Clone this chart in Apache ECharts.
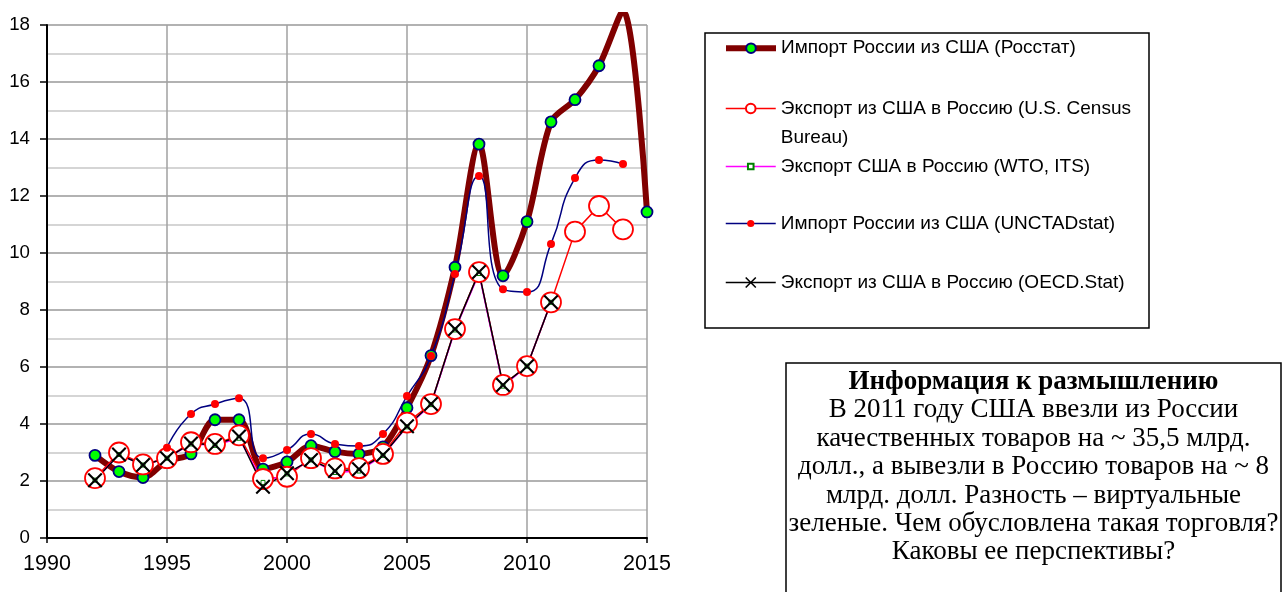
<!DOCTYPE html>
<html>
<head>
<meta charset="utf-8">
<script src="https://cdn.jsdelivr.net/npm/echarts@6/dist/echarts.min.js"></script>
<style>
html,body{margin:0;padding:0;background:#fff;}
#c{width:1283px;height:592px;}
</style>
</head>
<body>
<div id="c"></div>
<script>
const years = [1992,1993,1994,1995,1996,1997,1998,1999,2000,2001,2002,2003,2004,2005,2006,2007,2008,2009,2010,2011,2012,2013,2014,2015];
const rosstat = [2.9,2.33,2.12,2.7,2.95,4.15,4.15,2.42,2.67,3.24,3.03,2.95,3.2,4.57,6.4,9.5,13.82,9.2,11.1,14.6,15.38,16.57,18.5,11.44];
const census = [2.1,3.0,2.58,2.8,3.36,3.3,3.6,2.07,2.15,2.8,2.44,2.45,2.95,4.05,4.7,7.33,9.33,5.37,6.03,8.27,10.75,11.65,10.83,null];
const wto = [2.03,2.93,2.56,2.8,3.3,3.25,3.5,1.95,2.25,2.74,2.3,2.35,2.9,3.9,4.68,7.3,9.28,5.33,6.03,8.27,null,null,null,null];
const unctad = [null,null,null,3.17,4.35,4.7,4.9,2.8,3.09,3.65,3.3,3.23,3.65,4.98,6.39,9.26,12.7,8.73,8.63,10.32,12.63,13.26,13.12,null];
const oecd = [2.03,2.93,2.56,2.8,3.32,3.27,3.56,1.8,2.27,2.74,2.35,2.41,2.91,3.92,4.7,7.33,9.33,5.37,6.03,8.27,null,null,null,null];
const xTicks = [1990,1995,2000,2005,2010,2015];
const names = [
  'Импорт России из США (Росстат)',
  'Экспорт из США в Россию (U.S. Census Bureau)',
  'Экспорт США в Россию (WTO, ITS)',
  'Импорт России из США (UNCTADstat)',
  'Экспорт из США в Россию (OECD.Stat)'
];
const noteTitle = 'Информация к размышлению';
const noteLines = ['В 2011 году США ввезли из России','качественных товаров на ~ 35,5 млрд.','долл., а вывезли в Россию товаров на ~ 8','млрд. долл. Разность – виртуальные','зеленые. Чем обусловлена такая торговля?','Каковы ее перспективы?'];

function pairs(arr){ const out=[]; arr.forEach((v,i)=>{ if(v!=null) out.push([years[i],v]); }); return out; }
// points above the plot area keep their line but their marker is not drawn
const rosstatData = pairs(rosstat).map(p => p[1] > 18 ? {value:p, symbol:'none'} : p);
const xPath = 'path://M0,1L1,0L5,4L9,0L10,1L6,5L10,9L9,10L5,6L1,10L0,9L4,5Z';

const chart = echarts.init(document.getElementById('c'), null, {renderer:'canvas'});
const FONT = 'Liberation Sans, Arial, sans-serif';

function leg(name, left, top, itemHeight, lw, fmt){
  return {
    data:[name], orient:'vertical', left:left, top:top, padding:0,
    itemWidth:50, itemHeight:itemHeight, itemGap:0, selectedMode:false,
    lineStyle:{width:lw},
    textStyle:{fontFamily:FONT, fontSize:19, color:'#000', lineHeight:29},
    formatter: fmt || (n => n)
  };
}

const option = {
  animation:false,
  backgroundColor:'#fff',
  grid:{left:47, top:25, width:600, height:513, containLabel:false},
  xAxis:{
    type:'value', min:1990, max:2015, interval:5,
    axisLine:{show:true, onZero:false, lineStyle:{color:'#000', width:2}},
    axisTick:{show:true, inside:false, length:5, lineStyle:{color:'#000', width:1.5}},
    axisLabel:{color:'#000', fontFamily:FONT, fontSize:21.5, margin:15,
      formatter: v => xTicks.includes(v) ? String(v) : ''},
    splitLine:{show:true, lineStyle:{color:'#a0a0a0', width:1.5}}
  },
  yAxis:{
    type:'value', min:0, max:18, interval:2,
    axisLine:{show:true, lineStyle:{color:'#000', width:2}},
    axisTick:{show:true, inside:false, length:7, lineStyle:{color:'#000', width:1.5}},
    axisLabel:{color:'#000', fontFamily:FONT, fontSize:18.7, margin:17},
    splitLine:{show:true, lineStyle:{color:'#999', width:1.5}},
    minorTick:{show:false, splitNumber:2},
    minorSplitLine:{show:true, lineStyle:{color:'#c8c8c8', width:1.5}}
  },
  legend:[
    leg(names[0], 723, 33.7, 12, 6),
    leg(names[1], 725, 65, 12, 1.5, n => '\u00a0\n' + n.replace(' Bureau)', '\nBureau)')),
    leg(names[2], 725, 152, 7, 1.5),
    leg(names[3], 725, 209, 9, 1.5),
    leg(names[4], 725, 268, 14, 1.5)
  ],
  series:[
    {
      name:names[0], type:'line', data:rosstatData, smooth:0.3, clip:false,
      lineStyle:{color:'#800000', width:6},
      symbol:'circle', symbolSize:11,
      itemStyle:{color:'#00ff00', borderColor:'#000080', borderWidth:1.8}
    },
    {
      name:names[1], type:'line', data:pairs(census), smooth:false,
      lineStyle:{color:'#ff0000', width:1.5},
      symbol:'circle', symbolSize:20,
      itemStyle:{color:'#ffffff', borderColor:'#ff0000', borderWidth:1.8}
    },
    {
      name:names[2], type:'line', data:pairs(wto), smooth:false,
      lineStyle:{color:'#ff00ff', width:1.5},
      symbol:'rect', symbolSize:4,
      itemStyle:{color:'#ffffff', borderColor:'#008000', borderWidth:1}
    },
    {
      name:names[3], type:'line', data:pairs(unctad), smooth:0.55,
      lineStyle:{color:'#000080', width:1.5},
      symbol:'circle', symbolSize:8,
      itemStyle:{color:'#ff0000', borderWidth:0}
    },
    {
      name:names[4], type:'line', data:pairs(oecd), smooth:false,
      lineStyle:{color:'#000000', width:1.5},
      symbol:xPath, symbolSize:15,
      itemStyle:{color:'#000000', borderWidth:0}
    }
  ],
  graphic:[
    {type:'rect', z:100, silent:true, shape:{x:40, y:0, width:640, height:12}, style:{fill:'#fff'}},
    {type:'rect', z:1, silent:true, shape:{x:705, y:33, width:444, height:295}, style:{fill:'none', stroke:'#000', lineWidth:1.5}},
    {type:'rect', z:1, silent:true, shape:{x:786, y:363, width:495, height:260}, style:{fill:'#fff', stroke:'#000', lineWidth:1.5}},
    {type:'text', z:2, silent:true, x:1033.5, y:367.8,
      style:{
        text:'{t|'+noteTitle+'}\n'+noteLines.join('\n'),
        align:'center', verticalAlign:'top',
        font:'27px "Liberation Serif", "Times New Roman", serif',
        fill:'#000', lineHeight:28.4,
        rich:{t:{fontWeight:'bold', fontFamily:'Liberation Serif', fontSize:27, lineHeight:28.4, fill:'#000'}}
      }
    }
  ]
};
chart.setOption(option);
</script>
</body>
</html>
